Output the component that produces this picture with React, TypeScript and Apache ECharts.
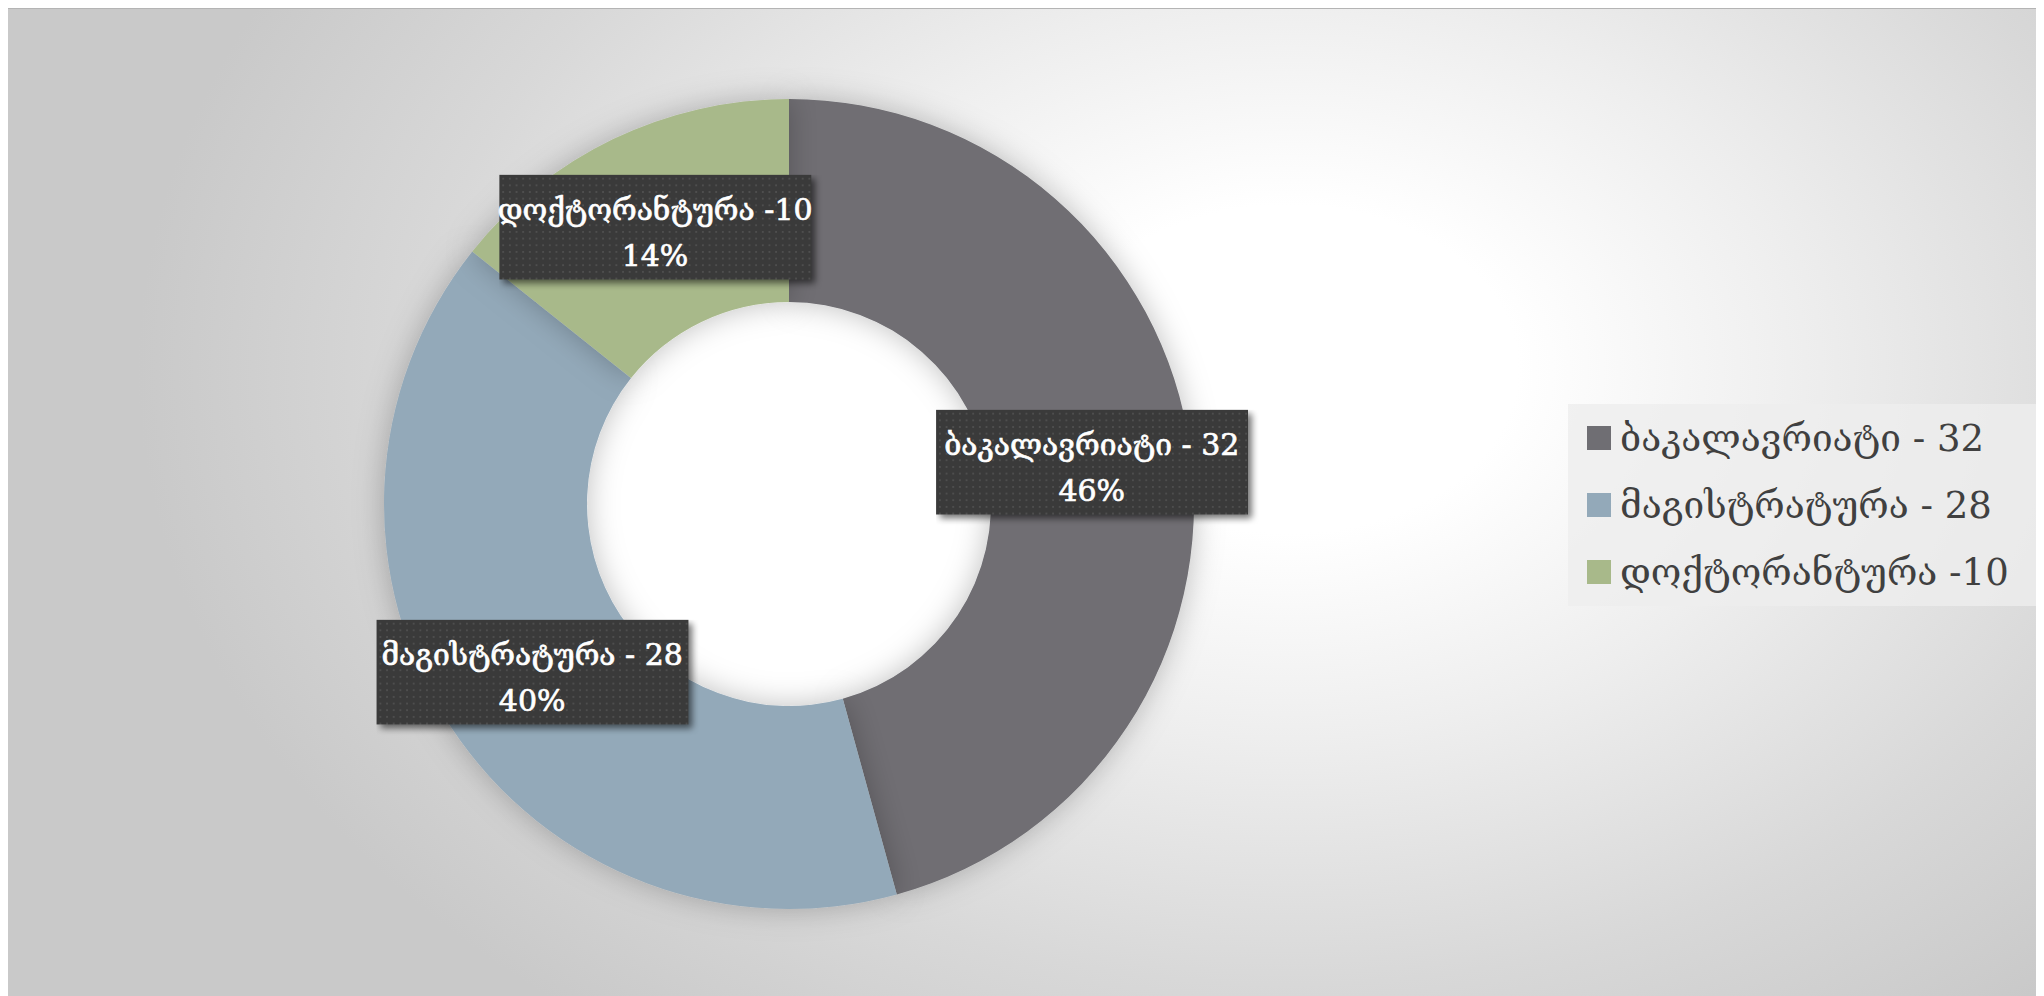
import React, { useEffect, useRef } from "react";
import * as echarts from "echarts";

const categories = ["ბაკალავრიატი - 32", "მაგისტრატურა - 28", "დოქტორანტურა -10"];
const values = [32, 28, 10];
const colors = ["#6f6e73", "#93a9b9", "#a8b98a"];

const SH = 12;

function makeDots(): string {
  const c = document.createElement("canvas");
  c.width = 340;
  c.height = 122;
  const g = c.getContext("2d");
  if (!g) return "";
  const w = c.width - SH;
  const h = c.height - SH;
  g.save();
  g.shadowColor = "rgba(0,0,0,0.55)";
  g.shadowBlur = 7;
  g.shadowOffsetX = 4;
  g.shadowOffsetY = 4;
  g.fillStyle = "#3a3a3a";
  g.fillRect(0, 0, w, h);
  g.restore();
  g.fillStyle = "#4e4e4e";
  for (let y = 3; y < h - 1; y += 7) {
    for (let x = 3; x < w - 1; x += 7) {
      g.fillRect(x, y, 2, 2);
    }
  }
  return c.toDataURL("image/png");
}

export default function App() {
  const ref = useRef<HTMLDivElement>(null);
  useEffect(() => {
    if (!ref.current) return;
    const chart = echarts.init(ref.current, null, { renderer: "svg" });
    const font = "'DejaVu Serif', 'DejaVu Sans', serif";
    const dots = makeDots();
    chart.setOption({
      animation: false,
      backgroundColor: "transparent",
      color: colors,
      legend: {
        orient: "vertical",
        left: 1560,
        top: 395,
        backgroundColor: "rgba(238,238,238,0.8)",
        padding: [11, 29, 11, 19],
        itemWidth: 24,
        itemHeight: 24,
        itemGap: 21,
        icon: "rect",
        data: categories,
        textStyle: { fontFamily: font, fontSize: 37, color: "#404040", lineHeight: 46, padding: [0, 0, 0, 4] },
      },
      series: [
        {
          type: "pie",
          center: [781, 495],
          radius: [0, 203],
          silent: true,
          label: { show: false },
          labelLine: { show: false },
          itemStyle: { color: "#ffffff" },
          data: [{ name: "hole", value: 1 }],
        },
        {
          type: "pie",
          center: [781, 495],
          radius: [202, 405],
          startAngle: 90,
          clockwise: true,
          percentPrecision: 0,
          avoidLabelOverlap: false,
          itemStyle: { shadowBlur: 30, shadowColor: "rgba(0,0,0,0.25)" },
          emphasis: { disabled: true },
          label: {
            show: true,
            position: "inside",
            offset: [5, 5],
            formatter: "{b}\n{d}%",
            color: "#ffffff",
            fontFamily: font,
            fontSize: 30,
            textBorderColor: "#ffffff",
            textBorderWidth: 0.7,
            lineHeight: 46,
            align: "center",
            backgroundColor: dots ? { image: dots } : "#3a3a3a",
            padding: [6, 9 + SH, 6 + SH, 9],
          },
          labelLine: { show: false },
          data: categories.map((c, i) => ({ name: c, value: values[i] })),
        },
      ],
    });
    return () => chart.dispose();
  }, []);
  return (
    <div
      ref={ref}
      style={{
        width: 2036,
        height: 988,
        borderTop: "1px solid #b4b4b4",
        boxSizing: "border-box",
        background:
          "radial-gradient(ellipse 1150px 820px at 1280px 360px, #ffffff 0%, #ffffff 20%, #eeeeee 45%, #d8d8d8 75%, #c9c9c9 100%)",
      }}
    />
  );
}
